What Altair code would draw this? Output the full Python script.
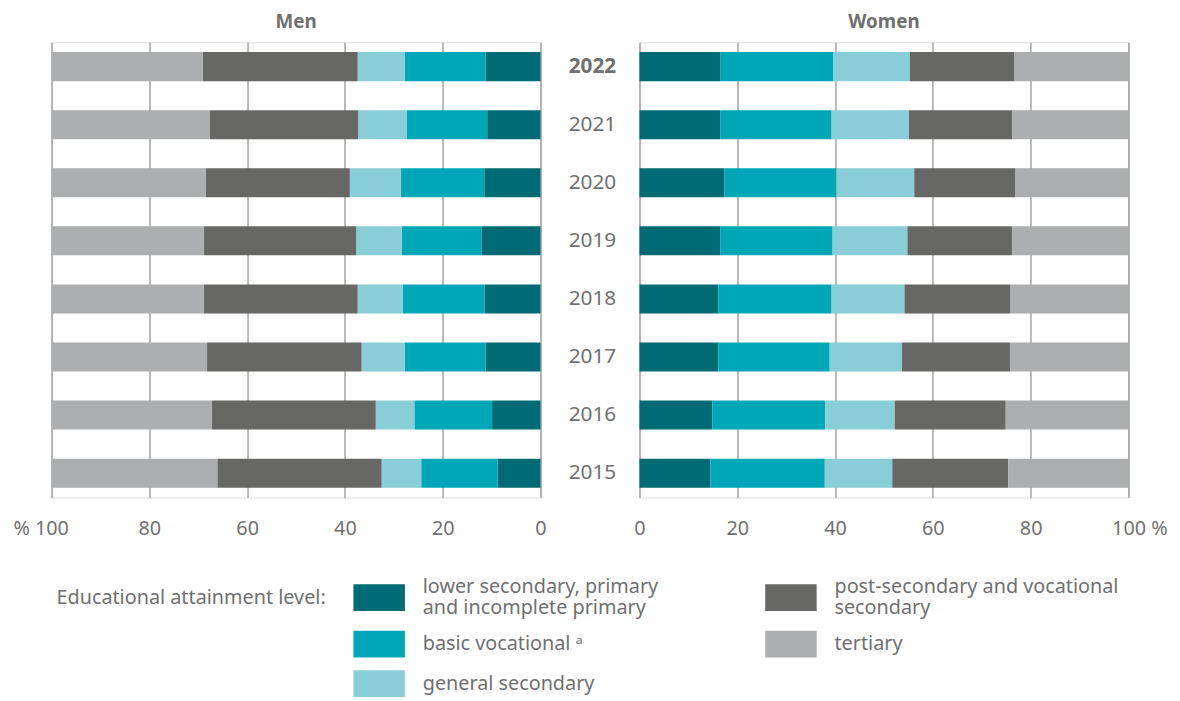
import altair as alt
import pandas as pd

years = ["2022", "2021", "2020", "2019", "2018", "2017", "2016", "2015"]

levels = [
    "lower secondary, primary|and incomplete primary",
    "basic vocational \u1d43",
    "general secondary",
    "post-secondary and vocational|secondary",
    "tertiary",
]
level_colors = ["#006b75", "#00a8b7", "#89cdd6", "#676765", "#adaeaf"]

men_lower = [11.2, 10.9, 11.5, 12.1, 11.4, 11.2, 9.9, 8.8]
men_basic = [16.6, 16.5, 17.1, 16.3, 16.8, 16.6, 15.9, 15.6]
men_general = [9.6, 9.9, 10.4, 9.3, 9.2, 8.8, 7.9, 8.1]
men_post = [31.7, 30.4, 29.5, 31.2, 31.5, 31.6, 33.5, 33.6]
men_tertiary = [30.9, 32.3, 31.5, 31.1, 31.1, 31.8, 32.8, 33.9]

women_lower = [16.6, 16.5, 17.4, 16.5, 16.1, 16.1, 14.9, 14.5]
women_basic = [23.0, 22.8, 22.9, 23.0, 23.2, 22.8, 23.1, 23.4]
women_general = [15.7, 15.8, 15.9, 15.3, 14.9, 14.8, 14.2, 13.8]
women_post = [21.3, 21.1, 20.6, 21.4, 21.7, 22.1, 22.7, 23.7]
women_tertiary = [23.4, 23.8, 23.2, 23.8, 24.1, 24.2, 25.1, 24.6]

x_ticks = [0, 20, 40, 60, 80, 100]

TEXT = "#6f6f6f"
FONT = "Noto Sans"


def long_frame(series):
    rows = []
    for k, (lvl, vals) in enumerate(zip(levels, series)):
        for y, v in zip(years, vals):
            rows.append({"year": y, "level": lvl, "value": v, "ord": k})
    return pd.DataFrame(rows)


df_men = long_frame([men_lower, men_basic, men_general, men_post, men_tertiary])
df_women = long_frame([women_lower, women_basic, women_general, women_post, women_tertiary])

color_enc = alt.Color(
    "level:N",
    scale=alt.Scale(domain=levels, range=level_colors),
    legend=alt.Legend(
        title="Educational attainment level:",
        orient="none",
        legendX=5,
        legendY=535,
        columns=2,
        titleOrient="left",
        titleFontWeight="normal",
        titleFontSize=20,
        titleColor=TEXT,
        titleFont=FONT,
        titlePadding=27,
        titleAnchor="start",
        titleLimit=500,
        titleBaseline="line-top",
        titleLineHeight=54,
        symbolType="M-1,-0.52H1V0.52H-1Z",
        symbolSize=2704,
        symbolStrokeWidth=0,
        symbolOpacity=1,
        labelFontSize=20,
        labelColor=TEXT,
        labelFont=FONT,
        labelExpr="split(datum.label, '|')",
        labelBaseline=alt.ExprRef(expr="indexof(datum.label, '|') >= 0 ? 'line-bottom' : 'middle'"),
        labelLimit=400,
        labelOffset=18,
        rowPadding=-3,
        columnPadding=107,
    ),
)


def y_scale():
    return alt.Scale(paddingInner=0.5, paddingOuter=0.17)


def x_axis(expr, off):
    return alt.Axis(
        title=None,
        values=x_ticks,
        grid=True,
        gridColor="#8c8c8c",
        gridWidth=1.2,
        ticks=False,
        domain=False,
        labelFlush=False,
        labelFontSize=20,
        labelColor=TEXT,
        labelFont=FONT,
        labelPadding=21,
        labelExpr=expr,
        labelOffset={"condition": {"test": "datum.value == 100", "value": off}, "value": 0},
    )


men = (
    alt.Chart(df_men)
    .mark_bar()
    .encode(
        x=alt.X(
            "value:Q",
            stack="zero",
            scale=alt.Scale(domain=[0, 100], reverse=True, nice=False),
            axis=x_axis("datum.value == 100 ? '% 100' : datum.label", -11),
        ),
        y=alt.Y("year:O", sort=years, scale=y_scale(), axis=None),
        color=color_enc,
        order=alt.Order("ord:Q"),
    )
    .properties(
        width=494,
        height=460,
        title=alt.Title("Men", fontSize=19, fontWeight="bold", color=TEXT, font=FONT, offset=10),
    )
)

women = (
    alt.Chart(df_women)
    .mark_bar()
    .encode(
        x=alt.X(
            "value:Q",
            stack="zero",
            scale=alt.Scale(domain=[0, 100], nice=False),
            axis=x_axis("datum.value == 100 ? '100 %' : datum.label", 11),
        ),
        y=alt.Y(
            "year:O",
            sort=years,
            scale=y_scale(),
            axis=alt.Axis(
                title=None,
                ticks=False,
                tickSize=0,
                domain=False,
                labelAlign="center",
                labelPadding=48,
                labelFontSize=21,
                labelColor=TEXT,
                labelFont=FONT,
                labelFontWeight={"condition": {"test": "datum.value == 2022", "value": "bold"}, "value": "normal"},
            ),
        ),
        color=color_enc,
        order=alt.Order("ord:Q"),
    )
    .properties(
        width=494,
        height=460,
        title=alt.Title("Women", fontSize=19, fontWeight="bold", color=TEXT, font=FONT, offset=10),
    )
)

chart = (
    alt.hconcat(men, women, spacing=20)
    .properties(padding={"left": 4, "top": 1, "right": 4, "bottom": 4})
    .configure_view(stroke=None)
    .configure(font=FONT)
)

chart.save("out.html", embed_options={"renderer": "svg", "actions": False})
